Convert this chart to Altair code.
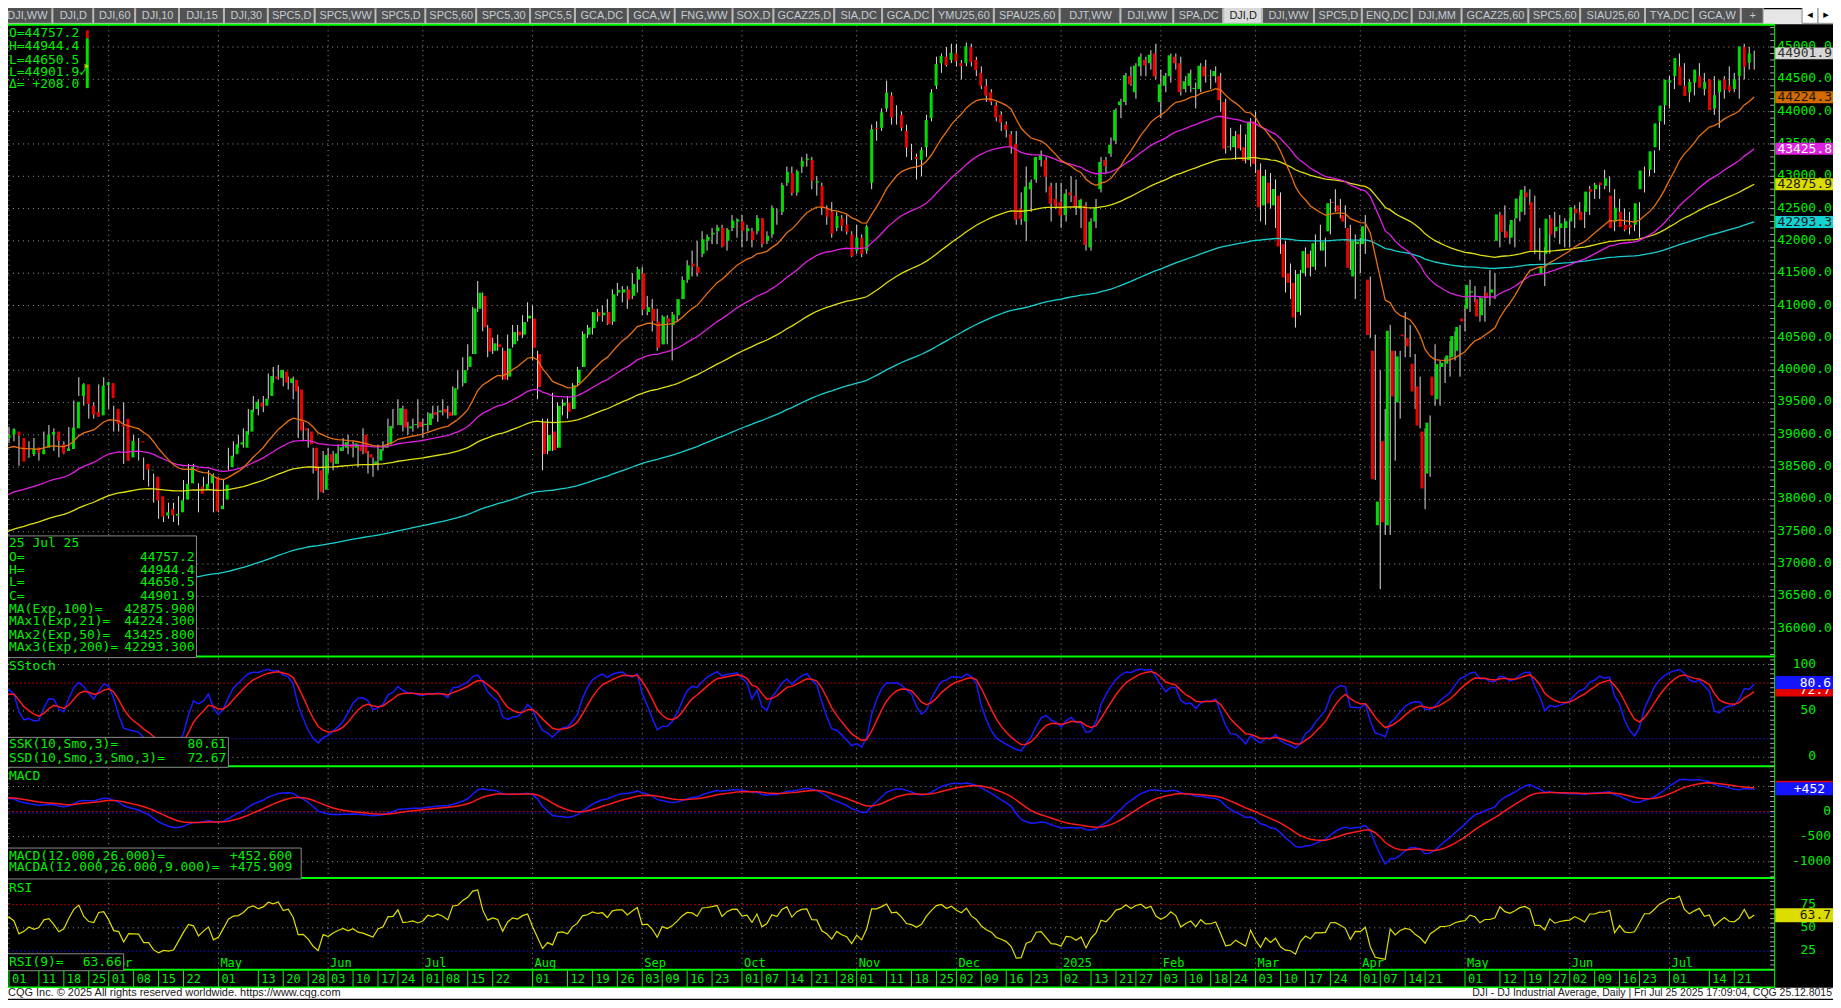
import altair as alt
import pandas as pd
import numpy as np

# ---------------- data (DJI daily) ----------------
FIRST_DAY = "2024-02-29"
LAST_DAY = "2025-07-25"
HOLIDAYS = ["2024-03-29", "2024-05-27", "2024-06-19", "2024-07-04", "2024-09-02",
            "2024-11-28", "2024-12-25", "2025-01-01", "2025-01-09", "2025-01-20",
            "2025-02-17", "2025-04-18", "2025-05-26", "2025-06-19", "2025-07-04"]

opens = [
    38950, 39000, 39050, 38950, 38650, 38700, 38800, 38700, 38800, 39000, 39050, 38850, 38750, 38780, 39100, 39600, 39780, 39450, 39350, 39300, 39770,
    39800, 39400, 39150, 39250, 38650, 38900, 38900, 38550, 38450, 38350, 38050, 37750, 37850, 37750, 37800, 38000, 38250, 38480, 38200, 38150, 38250, 38350,
    37850, 38000, 38500, 38700, 38850, 38800, 39050, 39400, 39500, 39450, 39600, 39900, 39880, 39980, 39800, 39850, 39700, 39100, 39050, 38800, 38450, 38150,
    38700, 38550, 38750, 38800, 38850, 38800, 38850, 39000, 38700, 38550, 38600, 38800, 38850, 39150, 39150, 39400, 39100, 39150, 39200,
    39150, 39150, 39350, 39350, 39400, 39350, 39300, 39750, 39800, 40050, 40250, 40950, 41150, 40650, 40300, 40400, 40300, 39900, 40400, 40600, 40550, 40800,
    40800, 40250, 39200, 38750, 39050, 38800, 39450, 39500, 39400, 39800, 40050, 40550, 40650, 40900, 40850, 40900, 40750, 41200, 41200, 41250, 41150, 41400,
    41500, 40900, 40950, 40750, 40400, 40800, 40700, 40850, 41100, 41400, 41650, 41600, 41800, 42000, 42100, 42150, 42200, 42000, 42200, 42300,
    42300, 42150, 42150, 42150, 42350, 42000, 42100, 42450, 42450, 42900, 43050, 42750, 43150, 43250, 43250, 42900, 42850, 42500, 42450, 42200, 42350, 42250, 42100,
    41850, 42050, 41850, 42900, 43750, 43750, 44050, 44250, 43950, 43950, 43700, 43400, 43300, 43250, 43450, 43900, 44400, 44750, 44850, 44800,
    44900, 44750, 44750, 45000, 44800, 44600, 44400, 44300, 44100, 43950, 43800, 43650, 43500, 42500, 42300, 42800, 42950, 43250, 43250, 42850, 42650,
    42600, 42400, 42750, 42700, 42500, 42550, 41900, 42300, 42800, 43250, 43350, 43550, 44100, 44150, 44550, 44300, 44700, 44800, 44750, 44900,
    44150, 44400, 44550, 44850, 44750, 44350, 44400, 44350, 44350, 44700, 44550, 44550, 44550, 44150, 43450, 43450, 43650, 43450, 43250,
    43850, 43100, 42550, 42900, 42550, 42700, 41950, 41500, 41350, 40900, 41500, 41800, 41600, 41950, 41850, 42150, 42600, 42550, 42400, 42200, 41450,
    41950, 41950, 41400, 40300, 37600, 38900, 37600, 40300, 39500, 40550, 40500, 40100, 39750, 39050, 38400, 39900, 39550, 40050, 40100, 40200, 40300,
    40800, 40950, 41200, 41100, 40850, 41200, 41200, 42000, 42400, 42150, 42050, 42350, 42450, 42750, 42600, 41850, 41500, 41800, 42350, 42150, 42200,
    42200, 42300, 42500, 42450, 42450, 42800, 42800, 42900, 42850, 42700, 42300, 42450, 42250, 42250, 42250, 42800, 43100, 43100, 43450, 43850,
    44100, 44450, 44550, 44700, 44400, 44300, 44450, 44550, 44350, 44500, 44050, 44300, 44500, 44400, 44350, 44550, 45000, 44757.2,
]
highs = [
    39100, 39125, 39100, 38990, 38850, 38900, 38950, 38800, 39050, 39150, 39100, 38950, 38900, 39120, 39530, 39890, 39800, 39500, 39500, 39780, 39890,
    39820, 39450, 39350, 39500, 39000, 39000, 38950, 38650, 38550, 38400, 38350, 37900, 37950, 37950, 38050, 38300, 38550, 38550, 38250, 38350, 38450, 38400,
    38350, 38300, 38800, 38900, 39000, 39100, 39400, 39600, 39550, 39600, 39950, 40050, 40080, 40000, 39900, 39900, 39750, 39200, 39100, 38800, 38500, 38750,
    38800, 38750, 38850, 38950, 39000, 38900, 38850, 39100, 38750, 38650, 38850, 38900, 39250, 39400, 39550, 39450, 39200, 39250, 39550,
    39250, 39350, 39450, 39450, 39550, 39450, 39750, 40000, 40200, 40400, 40980, 41380, 41200, 40700, 40500, 40550, 40350, 40550, 40700, 40700, 40850, 41050,
    41000, 40300, 39250, 39250, 39650, 39500, 39550, 39600, 39800, 40050, 40600, 40700, 40900, 40950, 41000, 41100, 41250, 41350, 41300, 41300, 41500, 41600,
    41600, 41150, 41100, 40950, 40850, 40850, 40900, 41100, 41450, 41700, 41850, 42000, 42150, 42100, 42200, 42250, 42250, 42200, 42400, 42350,
    42400, 42250, 42200, 42400, 42350, 42150, 42550, 42500, 42900, 43150, 43150, 43100, 43300, 43350, 43300, 43000, 42900, 42550, 42600, 42450, 42400, 42400, 42150,
    42250, 42100, 42250, 43800, 43850, 44050, 44480, 44300, 44100, 44000, 43800, 43500, 43350, 43450, 43950, 44350, 44850, 44900, 45000, 45050,
    45050, 44800, 45070, 45050, 44850, 44700, 44500, 44350, 44150, 44000, 43850, 43700, 43700, 42750, 43150, 42950, 43300, 43400, 43300, 42900, 42900,
    42900, 42800, 43000, 42950, 42650, 42600, 42350, 42650, 43300, 43300, 43600, 44050, 44200, 44600, 44700, 44750, 44900, 44850, 44950, 45050,
    44650, 44600, 44900, 44900, 44850, 44550, 44650, 44450, 44750, 44800, 44650, 44700, 44600, 44200, 43750, 43700, 43800, 43650, 43900,
    44000, 43200, 43100, 43050, 42950, 42750, 42000, 41650, 41550, 41550, 41900, 41850, 42100, 42250, 42050, 42650, 42800, 42650, 42550, 42250, 42100,
    42050, 42400, 41450, 40550, 40000, 39400, 40700, 40300, 40300, 40900, 40700, 40250, 39900, 39100, 39300, 40400, 40150, 40200, 40450, 40600, 40700,
    41000, 41400, 41300, 41150, 41300, 41550, 41500, 42450, 42550, 42250, 42350, 42700, 42850, 42800, 42700, 42200, 41900, 42400, 42450, 42400, 42350,
    42350, 42550, 42600, 42550, 42850, 42900, 42900, 43100, 43000, 42800, 42650, 42500, 42450, 42550, 42600, 43150, 43250, 43400, 43850, 44150,
    44550, 44550, 44900, 44750, 44500, 44550, 44750, 44600, 44500, 44550, 44400, 44550, 44700, 44600, 44600, 45050, 45000, 44944.4,
]
lows = [
    38800, 38870, 38900, 38520, 38600, 38650, 38670, 38600, 38700, 38950, 38750, 38650, 38700, 38750, 39050, 39600, 39450, 39250, 39250, 39280, 39730,
    39400, 39050, 39050, 38550, 38600, 38800, 38600, 38300, 38200, 37950, 37700, 37650, 37700, 37650, 37600, 37950, 38200, 38250, 37800, 38150, 38200, 37800,
    37800, 37850, 38450, 38650, 38800, 38800, 39000, 39350, 39300, 39350, 39550, 39800, 39850, 39750, 39700, 39550, 38950, 38900, 38800, 38400, 38000, 38100,
    38400, 38450, 38550, 38750, 38700, 38650, 38500, 38700, 38400, 38350, 38450, 38750, 38800, 39100, 39150, 39050, 39000, 39050, 39100,
    38950, 39050, 39250, 39200, 39300, 39250, 39300, 39700, 39750, 40000, 40250, 40900, 40600, 40200, 40250, 40300, 39850, 39850, 40350, 40450, 40500, 40750,
    40150, 39550, 38450, 38700, 38750, 38800, 39300, 39250, 39400, 39750, 40050, 40500, 40550, 40750, 40750, 40700, 40700, 41150, 41050, 40950, 41100, 41200,
    40850, 40850, 40600, 40300, 40400, 40400, 40150, 40750, 41100, 41350, 41450, 41450, 41750, 41850, 41950, 41950, 41900, 41850, 42150, 42050,
    41900, 42000, 41900, 42100, 41900, 41950, 42050, 42250, 42400, 42850, 42700, 42700, 43050, 43150, 42800, 42700, 42400, 42250, 42050, 42150, 42150, 42100, 41750,
    41800, 41750, 41800, 42800, 43550, 43700, 44000, 43800, 43800, 43700, 43300, 43250, 42950, 43000, 43300, 43850, 44350, 44600, 44700, 44750,
    44700, 44500, 44700, 44700, 44550, 44350, 44150, 44100, 43850, 43700, 43600, 43350, 42250, 42250, 42000, 42450, 42900, 43150, 42750, 42300, 42500,
    42200, 42300, 42600, 42400, 42200, 41850, 41850, 42200, 42750, 43050, 43300, 43500, 43900, 44100, 44400, 44200, 44550, 44550, 44650, 44500,
    43900, 44300, 44450, 44650, 44250, 44300, 44300, 44050, 44300, 44450, 44350, 44450, 44000, 43350, 43400, 43250, 43400, 43200, 43150,
    43050, 42300, 42250, 42500, 42200, 41800, 41200, 41100, 40660, 40850, 41450, 41450, 41550, 41850, 41600, 42100, 42450, 42350, 42200, 41550, 41100,
    41500, 41800, 40500, 38300, 36611, 37450, 37450, 38600, 39250, 40200, 40200, 39400, 39100, 37850, 38350, 39450, 39450, 39800, 39900, 40150, 39900,
    40600, 40900, 41050, 40750, 40750, 41000, 41100, 41900, 42050, 41950, 41900, 42300, 42400, 42550, 41800, 41700, 41300, 41800, 42050, 41950, 41900,
    41900, 42200, 42400, 42200, 42400, 42650, 42650, 42800, 42750, 42150, 42250, 42150, 42100, 42150, 42050, 42750, 43000, 43050, 43400, 43800,
    44050, 44350, 44500, 44300, 44150, 44250, 44400, 44250, 44200, 43950, 43750, 44200, 44300, 44300, 44200, 44500, 44650, 44650.5,
]
closes = [
    38996, 39087, 38990, 38585, 38661, 38791, 38723, 38770, 39005, 39043, 38906, 38715, 38790, 39110, 39512, 39781, 39476, 39313, 39282, 39760, 39807,
    39567, 39170, 39127, 38597, 38904, 38892, 38883, 38461, 38459, 37983, 37735, 37799, 37753, 37775, 37986, 38240, 38504, 38461, 38086, 38240, 38386, 37816,
    37903, 38226, 38676, 38852, 38884, 39056, 39388, 39513, 39432, 39558, 39908, 39869, 40004, 39807, 39873, 39671, 39065, 39070, 38853, 38442, 38112, 38686,
    38571, 38711, 38807, 38886, 38799, 38868, 38747, 38712, 38647, 38589, 38778, 38834, 39135, 39150, 39411, 39112, 39128, 39164, 39119,
    39170, 39332, 39308, 39376, 39345, 39292, 39721, 39753, 40001, 40212, 40954, 41198, 40665, 40288, 40415, 40358, 39854, 40335, 40589, 40540, 40743, 40843,
    40348, 39737, 38703, 38998, 38763, 39447, 39498, 39357, 39766, 40008, 40563, 40660, 40897, 40835, 40890, 40713, 41175, 41240, 41251, 41092, 41335, 41563,
    40937, 40975, 40756, 40345, 40830, 40737, 40861, 41097, 41394, 41622, 41606, 41503, 42025, 42063, 42125, 42208, 41915, 42175, 42313, 42330,
    42156, 42196, 42011, 42353, 41955, 42080, 42512, 42454, 42864, 43065, 42740, 43077, 43239, 43276, 42931, 42925, 42514, 42374, 42114, 42387, 42234, 42142, 41763,
    42052, 41795, 42222, 43729, 43730, 43989, 44293, 43911, 43958, 43751, 43445, 43390, 43269, 43408, 43870, 44297, 44736, 44860, 44722, 44911,
    44782, 44706, 45014, 44766, 44643, 44401, 44248, 44149, 43914, 43828, 43717, 43450, 42326, 42342, 42840, 42907, 43297, 43326, 42992, 42574, 42544,
    42392, 42732, 42706, 42528, 42636, 41938, 42297, 42518, 43222, 43153, 43488, 44025, 44157, 44565, 44424, 44714, 44850, 44714, 44882, 44545,
    44422, 44556, 44873, 44748, 44303, 44471, 44594, 44368, 44711, 44546, 44556, 44628, 44177, 43428, 43461, 43621, 43433, 43239, 43841,
    43191, 42521, 43007, 42580, 42802, 41912, 41433, 41351, 40814, 41488, 41842, 41582, 41965, 41954, 41985, 42583, 42588, 42455, 42300, 41584, 42002,
    41990, 42226, 40546, 38315, 37966, 37646, 40609, 39594, 40213, 40525, 40369, 39669, 39142, 38170, 39187, 39607, 40093, 40114, 40228, 40528, 40669,
    40753, 41317, 41219, 40829, 41114, 41114, 41249, 42410, 42141, 42051, 42323, 42655, 42792, 42677, 41860, 41860, 41603, 42343, 42098, 42216, 42270,
    42306, 42520, 42428, 42320, 42763, 42762, 42867, 42866, 42968, 42198, 42515, 42215, 42172, 42207, 42582, 43089, 43093, 43387, 43819, 44095,
    44495, 44484, 44829, 44406, 44241, 44458, 44651, 44371, 44460, 44023, 44254, 44484, 44342, 44323, 44502, 45010, 44694, 44901.9,
]

# starting levels of the studies at the left edge
PREV_CLOSE = 38949
EMA_SEEDS = {21: 38750, 50: 38000, 100: 37450, 200: 35850}
MACD_SEEDS = (38830, 38560, 280)
RSI_SEEDS = (110, 80)

TICK_DATES = [
    "2024-03-01", "2024-03-11", "2024-03-18", "2024-03-25", "2024-04-01", "2024-04-08", "2024-04-15", "2024-04-22",
    "2024-05-01", "2024-05-13", "2024-05-20", "2024-05-28", "2024-06-03", "2024-06-10", "2024-06-17", "2024-06-24",
    "2024-07-01", "2024-07-08", "2024-07-15", "2024-07-22", "2024-08-01", "2024-08-12", "2024-08-19", "2024-08-26",
    "2024-09-03", "2024-09-09", "2024-09-16", "2024-09-23", "2024-10-01", "2024-10-07", "2024-10-14", "2024-10-21",
    "2024-10-28", "2024-11-01", "2024-11-11", "2024-11-18", "2024-11-25", "2024-12-02", "2024-12-09", "2024-12-16",
    "2024-12-23", "2025-01-02", "2025-01-13", "2025-01-21", "2025-01-27", "2025-02-03", "2025-02-10", "2025-02-18",
    "2025-02-24", "2025-03-03", "2025-03-10", "2025-03-17", "2025-03-24", "2025-04-01", "2025-04-07", "2025-04-14",
    "2025-04-21", "2025-05-01", "2025-05-12", "2025-05-19", "2025-05-27", "2025-06-02", "2025-06-09", "2025-06-16",
    "2025-06-23", "2025-07-01", "2025-07-14", "2025-07-21",
]

MAIN_TICKS = list(range(36000, 45001, 500))
MAIN_TAGS = [44901.9, 44224.3, 43425.8, 42875.9, 42293.3]
STOCH_TAGS = [72.67, 80.61]
MACD_SIGNAL_TAG = 475.909
MACD_TAG = 452.6
RSI_TAGS = [63.66]

TAB_LABELS = ["DJI,WW", "DJI,D", "DJI,60", "DJI,10", "DJI,15", "DJI,30", "SPC5,D", "SPC5,WW", "SPC5,D", "SPC5,60",
              "SPC5,30", "SPC5,5", "GCA,DC", "GCA,W", "FNG,WW", "SOX,D", "GCAZ25,D", "SIA,DC", "GCA,DC", "YMU25,60",
              "SPAU25,60", "DJT,WW", "DJI,WW", "SPA,DC", "DJI,D", "DJI,WW", "SPC5,D", "ENQ,DC", "DJI,MM", "GCAZ25,60",
              "SPC5,60", "SIAU25,60", "TYA,DC", "GCA,W", "+"]
TAB_EDGES = [2, 53, 94, 136, 180, 225, 269, 316, 377, 427, 478, 532, 577, 630, 677, 735, 776, 837, 885, 936,
             997, 1063, 1124, 1177, 1227, 1266, 1318, 1366, 1416, 1466, 1533, 1585, 1650, 1698, 1746, 1769]
SELECTED_TAB = 24

# ---------------- studies ----------------
dates = pd.bdate_range(FIRST_DAY, LAST_DAY, freq="C", holidays=HOLIDAYS)
n = len(closes)
assert len(dates) == n == len(opens) == len(highs) == len(lows), (len(dates), n, len(opens), len(highs), len(lows))
pos = {d.strftime("%Y-%m-%d"): i for i, d in enumerate(dates)}


def ema(vals, period, seed):
    a = 2.0 / (period + 1)
    e = seed
    out = []
    for v in vals:
        e = e + a * (v - e)
        out.append(e)
    return out


def smma(vals, p):
    s = vals[0]
    out = []
    for v in vals:
        s = s + (v - s) / p
        out.append(s)
    return out


emas = {p: ema(closes, p, s) for p, s in EMA_SEEDS.items()}
fastk = []
for i in range(n):
    lo = min(lows[max(0, i - 9):i + 1])
    hi = max(highs[max(0, i - 9):i + 1])
    fastk.append(100.0 * (closes[i] - lo) / (hi - lo))
ssk = smma(fastk, 3)
ssd = smma(ssk, 3)
e12 = ema(closes, 12, MACD_SEEDS[0])
e26 = ema(closes, 26, MACD_SEEDS[1])
macd = [a - b for a, b in zip(e12, e26)]
macda = ema(macd, 9, MACD_SEEDS[2])
ag, al = RSI_SEEDS
prev = PREV_CLOSE
rsi = []
for c in closes:
    ch = c - prev
    ag = (ag * 8 + max(ch, 0)) / 9
    al = (al * 8 + max(-ch, 0)) / 9
    rsi.append(100 - 100 / (1 + ag / al))
    prev = c

UP, DN = "#00dd00", "#ee0000"
df = pd.DataFrame({"k": np.arange(n), "o": opens, "h": highs, "l": lows, "c": closes})
df["col"] = np.where(df.c >= df.o, UP, DN)

ema_cols = {200: "#18d0d0", 100: "#dede10", 50: "#e020e0", 21: "#e87010"}
ema_df = pd.concat([pd.DataFrame({"k": np.arange(n), "v": emas[p], "col": ema_cols[p]}) for p in [200, 100, 50, 21]])
sto_df = pd.concat([pd.DataFrame({"k": np.arange(n), "v": ssk, "col": "#1a1aff"}),
                    pd.DataFrame({"k": np.arange(n), "v": ssd, "col": "#ff1a1a"})])
macd_df = pd.concat([pd.DataFrame({"k": np.arange(n), "v": macd, "col": "#1a1aff"}),
                     pd.DataFrame({"k": np.arange(n), "v": macda, "col": "#ff1a1a"})])
rsi_df = pd.DataFrame({"k": np.arange(n), "v": rsi, "col": "#e0e000"})

month_rows = []
for i in range(1, n):
    if dates[i].month != dates[i - 1].month:
        month_rows.append({"k": i, "t": "2025" if (dates[i].month == 1) else dates[i].strftime("%b")})
month_df = pd.DataFrame(month_rows)
month_lab_df = month_df[month_df.k > 5]          # March 2024 label sits under the RSI read-out box
tick_df = pd.DataFrame({"k": [pos[d] for d in TICK_DATES], "t": [d[-2:] for d in TICK_DATES]})

# ---------------- layout (pixels inside the chart) ----------------
W, H = 1830, 992
PR = 1771
GREEN = "#00f000"
LINE_G = "#00ff00"
GRID = "#9a9a9a"
FONT = "DejaVu Sans Mono"
PANELS = {
    "main": ([35568, 45336], [649, 16]),
    "stoch": ([-9.7, 108.6], [759, 649]),
    "macd": ([-1324, 902.6], [871, 759]),
    "rsi": ([4.8, 103.8], [963, 871]),
}
XS = alt.Scale(domain=[0, n - 1], range=[-4, 1751], nice=False, zero=False)


def xk():
    return alt.X("k:Q", scale=XS, axis=None)


def ys(f, panel):
    d, r = PANELS[panel]
    return alt.Y(f"{f}:Q", scale=alt.Scale(domain=d, range=r, nice=False, zero=False), axis=None)


def one():
    return alt.Chart(pd.DataFrame({"a": [0]}))


def prect(x0, x1, y0, y1, fill, stroke=None, sw=1):
    kw = {"fill": fill}
    if stroke:
        kw.update(stroke=stroke, strokeWidth=sw)
    return one().mark_rect(**kw).encode(x=alt.value(x0), x2=alt.value(x1), y=alt.value(y0), y2=alt.value(y1))


def phline(y, x0, x1, color, w=1):
    return one().mark_rule(color=color, strokeWidth=w).encode(x=alt.value(x0), x2=alt.value(x1), y=alt.value(y))


def pvline(x, y0, y1, color, w=1):
    return one().mark_rule(color=color, strokeWidth=w).encode(x=alt.value(x), y=alt.value(y0), y2=alt.value(y1))


def ptexts(rows, color=GREEN, size=13, font=FONT, align="left"):
    d = pd.DataFrame(rows, columns=["px", "py", "t"])
    return alt.Chart(d).mark_text(color=color, fontSize=size, font=font, align=align, baseline="middle").encode(
        x=alt.X("px:Q", scale=None, axis=None), y=alt.Y("py:Q", scale=None, axis=None), text="t:N")


def hgrid(panel, values, color, dash, w=1):
    d = pd.DataFrame({"v": values})
    return alt.Chart(d).mark_rule(color=color, strokeDash=dash, strokeWidth=w).encode(
        y=ys("v", panel), x=alt.value(0), x2=alt.value(PR))


def axis_ticks(panel, values):
    d = pd.DataFrame({"v": values})
    return alt.Chart(d).mark_rule(color="#a8a8a8", strokeWidth=1).encode(
        y=ys("v", panel), x=alt.value(PR - 4), x2=alt.value(PR))


def axis_labels(panel, values, texts, x, align):
    d = pd.DataFrame({"v": values, "t": texts})
    return alt.Chart(d).mark_text(color=GREEN, fontSize=13, font=FONT, align=align, baseline="middle", dy=-1).encode(
        y=ys("v", panel), x=alt.value(x), text="t:N")


def tag_boxes(panel, values, bgs, h):
    d = pd.DataFrame({"v": values, "bg": bgs})
    return alt.Chart(d).mark_rule(strokeWidth=h).encode(
        y=ys("v", panel), x=alt.value(PR + 1), x2=alt.value(W),
        color=alt.Color("bg:N", scale=None))


def tag_texts(panel, values, texts, fgs, tx):
    d = pd.DataFrame({"v": values, "t": texts, "fg": fgs})
    return alt.Chart(d).mark_text(fontSize=13, font=FONT, align="right", baseline="middle").encode(
        y=ys("v", panel), x=alt.value(tx), text="t:N", color=alt.Color("fg:N", scale=None))


L = []
# tab bar
L.append(prect(0, W, 0, 15, "#e6e6e6"))
tab_rows = []
for i, lab in enumerate(TAB_LABELS):
    x0, x1 = TAB_EDGES[i] - 8, TAB_EDGES[i + 1] - 8
    sel = i == SELECTED_TAB
    tab_rows.append({"x0": x0, "x1": x1 - 1, "cx": (x0 + x1) / 2, "t": lab,
                     "fill": "#dadada" if sel else "#525252", "tc": "#222222" if sel else "#c4ccd6"})
tab_df = pd.DataFrame(tab_rows)
L.append(alt.Chart(tab_df).mark_rect(stroke="#b8b8b8", strokeWidth=1).encode(
    x=alt.X("x0:Q", scale=None, axis=None), x2="x1:Q", y=alt.value(-6), y2=alt.value(14),
    fill=alt.Fill("fill:N", scale=None)))
L.append(alt.Chart(tab_df).mark_text(fontSize=11, font="Liberation Sans", baseline="middle").encode(
    x=alt.X("cx:Q", scale=None, axis=None), y=alt.value(7), text="t:N", color=alt.Color("tc:N", scale=None)))
L.append(ptexts([(1113, 7, "|")], color="#9a9a9a", size=11, font="Liberation Sans"))
L.append(prect(1799, 1815, -4, 14, "#ffffff", "#8a8a8a"))
L.append(prect(1815, 1831, -4, 14, "#ffffff", "#8a8a8a"))
L.append(ptexts([(1807, 6, "◂"), (1823, 6, "▸")], color="#000000", size=11, font="DejaVu Sans", align="center"))

# footer
L.append(prect(0, W, 981, H, "#ffffff"))

# grids
L.append(hgrid("main", MAIN_TICKS, GRID, [1, 4]))
L.append(hgrid("stoch", [100, 50, 0], GRID, [1, 4]))
L.append(hgrid("macd", [500, -500, -1000], GRID, [1, 4]))
L.append(hgrid("rsi", [50], GRID, [1, 4]))
L.append(alt.Chart(month_df).mark_rule(color=GRID, strokeDash=[1, 4]).encode(
    x=xk(), y=alt.value(16), y2=alt.value(963)))
L.append(hgrid("stoch", [80], "#b00000", [2, 2]))
L.append(hgrid("stoch", [20], "#1010c0", [2, 2]))
L.append(hgrid("macd", [0], "#b00000", [2, 2]))
L.append(hgrid("macd", [-28], "#1010c0", [2, 2]))
L.append(hgrid("rsi", [75], "#b00000", [2, 2]))
L.append(hgrid("rsi", [25], "#1010c0", [2, 2]))

# candles
L.append(alt.Chart(df).mark_rule(color="#dcdcdc", strokeWidth=1).encode(
    x=xk(), y=ys("l", "main"), y2=alt.Y2("h:Q")))
L.append(alt.Chart(df).mark_bar(size=3).encode(
    x=xk(), y=ys("o", "main"), y2=alt.Y2("c:Q"), color=alt.Color("col:N", scale=None)))

# studies
L.append(alt.Chart(ema_df).mark_line(strokeWidth=1.3).encode(
    x=xk(), y=ys("v", "main"), color=alt.Color("col:N", scale=None)))
L.append(alt.Chart(sto_df).mark_line(strokeWidth=1.5).encode(
    x=xk(), y=ys("v", "stoch"), color=alt.Color("col:N", scale=None)))
L.append(alt.Chart(macd_df).mark_line(strokeWidth=1.5).encode(
    x=xk(), y=ys("v", "macd"), color=alt.Color("col:N", scale=None)))
L.append(alt.Chart(rsi_df).mark_line(strokeWidth=1.2).encode(
    x=xk(), y=ys("v", "rsi"), color=alt.Color("col:N", scale=None)))

# month labels (bottom of RSI pane)
L.append(alt.Chart(month_lab_df).mark_text(color=GREEN, fontSize=12, font=FONT, align="left", baseline="middle", dx=2).encode(
    x=xk(), y=alt.value(956), text="t:N"))

# separators / frame
L.append(phline(15.5, 0, PR, LINE_G, 2))
for yy in [649, 759, 871, 963]:
    L.append(phline(yy, 0, PR, LINE_G, 2))
L.append(phline(980.5, 0, PR, LINE_G, 1.5))
L.append(pvline(PR + 0.5, 15, 981, LINE_G, 1))

# right axes
L.append(axis_ticks("main", list(range(35600, 45301, 100))))
L.append(axis_ticks("stoch", list(range(-5, 106, 5))))
L.append(axis_ticks("macd", list(range(-1300, 901, 100))))
L.append(axis_ticks("rsi", list(range(5, 101, 5))))
L.append(axis_labels("main", MAIN_TICKS, [f"{v}.0" for v in MAIN_TICKS], PR + 3, "left"))
L.append(axis_labels("stoch", [100, 50, 0], ["100", "50", "0"], 1813, "right"))
L.append(axis_labels("macd", [0, -500, -1000], ["0", "-500", "-1000"], 1828, "right"))
L.append(axis_labels("rsi", [75, 50, 25], ["75", "50", "25"], 1813, "right"))

main_bg = ["#d6d6d6", "#d46a00", "#e020e0", "#dcdc00", "#12d2d2"]
main_fg = ["#303030", "#1a1a1a", "#ffffff", "#1a1a1a", "#1a1a1a"]
L.append(tag_boxes("main", MAIN_TAGS, main_bg, 12))
L.append(tag_texts("main", MAIN_TAGS, [f"{v:.1f}" for v in MAIN_TAGS], main_fg, 1829))
L.append(tag_boxes("stoch", STOCH_TAGS, ["#e00000", "#1414ff"], 13))
L.append(tag_texts("stoch", [STOCH_TAGS[0]], ["72.7"], ["#ffffff"], 1828))
L.append(tag_boxes("stoch", [STOCH_TAGS[1]], ["#1414ff"], 13))
L.append(tag_texts("stoch", [STOCH_TAGS[1]], ["80.6"], ["#ffffff"], 1828))
L.append(tag_boxes("macd", [MACD_SIGNAL_TAG], ["#e00000"], 14))
L.append(tag_boxes("macd", [MACD_TAG], ["#1414ff"], 13))
L.append(tag_texts("macd", [MACD_TAG], ["+452"], ["#ffffff"], 1822))
L.append(tag_boxes("rsi", RSI_TAGS, ["#dcdc00"], 14))
L.append(tag_texts("rsi", RSI_TAGS, ["63.7"], ["#1a1a1a"], 1828))

# top-left quote readout
L.append(ptexts([(1, 23.7, "O=44757.2"), (1, 37, "H=44944.4"), (1, 50.3, "L=44650.5"),
                 (1, 63, "L=44901.9✓"), (1, 75.3, "Δ= +208.0")]))
L.append(prect(78, 81, 21, 29, "#e00000"))
L.append(prect(78, 81, 29, 79, "#00e000"))
L.append(one().mark_point(shape="triangle-right", filled=True, size=30, color="#f0f000").encode(
    x=alt.value(79), y=alt.value(57)))

# main data box
L.append(prect(-2, 189, 528, 650, "#000000", "#8a8a8a"))
box_y = [535.3, 548.7, 562, 574.7, 588, 601, 613.7, 627, 639.7]
L.append(ptexts([(1, box_y[0], "25 Jul 25"), (1, box_y[1], "O="), (1, box_y[2], "H="), (1, box_y[3], "L="),
                 (1, box_y[4], "C="), (1, box_y[5], "MA(Exp,100)="), (1, box_y[6], "MAx1(Exp,21)="),
                 (1, box_y[7], "MAx2(Exp,50)="), (1, box_y[8], "MAx3(Exp,200)=")]))
L.append(ptexts([(187, box_y[1], "44757.2"), (187, box_y[2], "44944.4"), (187, box_y[3], "44650.5"),
                 (187, box_y[4], "44901.9"), (187, box_y[5], "42875.900"), (187, box_y[6], "44224.300"),
                 (187, box_y[7], "43425.800"), (187, box_y[8], "42293.300")], align="right"))

# stoch pane
L.append(ptexts([(1, 658.7, "SStoch")]))
L.append(prect(-2, 221, 730, 760, "#000000", "#8a8a8a"))
L.append(ptexts([(1, 737, "SSK(10,Smo,3)="), (1, 750.3, "SSD(10,Smo,3,Smo,3)=")]))
L.append(ptexts([(219, 737, "80.61"), (219, 750.3, "72.67")], align="right"))

# macd pane
L.append(ptexts([(1, 768.7, "MACD")]))
L.append(prect(-2, 294, 841, 872, "#000000", "#8a8a8a"))
L.append(ptexts([(1, 848.7, "MACD(12.000,26.000)="), (1, 860.3, "MACDA(12.000,26.000,9.000)=")]))
L.append(ptexts([(285, 848.7, "+452.600"), (285, 860.3, "+475.909")], align="right"))

# rsi pane
L.append(ptexts([(1, 881, "RSI")]))
L.append(prect(-2, 116, 947, 964, "#000000", "#8a8a8a"))
L.append(ptexts([(1, 955, "RSI(9)=")]))
L.append(ptexts([(114, 955, "63.66")], align="right"))

# date strip
L.append(alt.Chart(tick_df).mark_rule(color=LINE_G, strokeWidth=1).encode(
    x=xk(), y=alt.value(964), y2=alt.value(980)))
L.append(alt.Chart(tick_df).mark_text(color=GREEN, fontSize=12, font=FONT, align="left", baseline="middle", dx=3).encode(
    x=xk(), y=alt.value(972), text="t:N"))

# footer texts
L.append(ptexts([(0, 986, "CQG Inc. © 2025 All rights reserved worldwide. https://www.cqg.com")],
                color="#202020", size=11, font="Liberation Sans"))
L.append(ptexts([(1829, 986, "DJI - DJ Industrial Average, Daily | Fri Jul 25 2025 17:09:04, CQG 25.12.8015")],
                color="#202020", size=10.5, font="Liberation Sans", align="right"))

chart = alt.layer(*L).resolve_scale(x="independent", y="independent", color="independent", fill="independent").properties(
    width=W, height=H, padding=0, autosize=alt.AutoSizeParams(type="none"), background="#000000"
).configure_view(stroke=None)

chart.save("out.html", embed_options={"renderer": "svg", "actions": False})
